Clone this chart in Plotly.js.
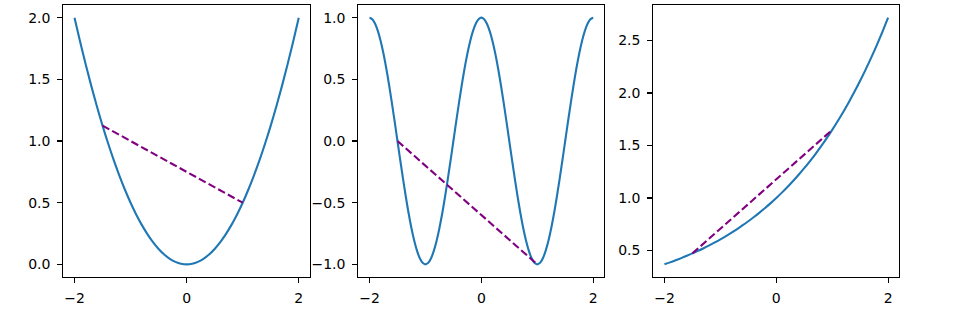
<!DOCTYPE html>
<html>
<head>
<meta charset="utf-8">
<script src="https://cdn.plot.ly/plotly-3.0.1.min.js"></script>
<style>html,body{margin:0;padding:0;background:#fff;}#chart{width:962px;height:320px;}</style>
</head>
<body>
<div id="chart"></div>
<script>
// Sample positions (x) for the smooth curves
const xCoarse = [-2.0,-1.9,-1.8,-1.7,-1.6,-1.5,-1.4,-1.3,-1.2,-1.1,-1.0,-0.9,-0.8,-0.7,-0.6,-0.5,-0.4,-0.3,-0.2,-0.1,0.0,
  0.1,0.2,0.3,0.4,0.5,0.6,0.7,0.8,0.9,1.0,1.1,1.2,1.3,1.4,1.5,1.6,1.7,1.8,1.9,2.0];
const xFine = [-2.0,-1.95,-1.9,-1.85,-1.8,-1.75,-1.7,-1.65,-1.6,-1.55,-1.5,-1.45,-1.4,-1.35,-1.3,-1.25,-1.2,-1.15,-1.1,-1.05,
  -1.0,-0.95,-0.9,-0.85,-0.8,-0.75,-0.7,-0.65,-0.6,-0.55,-0.5,-0.45,-0.4,-0.35,-0.3,-0.25,-0.2,-0.15,-0.1,-0.05,
  0.0,0.05,0.1,0.15,0.2,0.25,0.3,0.35,0.4,0.45,0.5,0.55,0.6,0.65,0.7,0.75,0.8,0.85,0.9,0.95,
  1.0,1.05,1.1,1.15,1.2,1.25,1.3,1.35,1.4,1.45,1.5,1.55,1.6,1.65,1.7,1.75,1.8,1.85,1.9,1.95,2.0];

// Panel 1: parabola
const yParabola = [2.0,1.805,1.62,1.445,1.28,1.125,0.98,0.845,0.72,0.605,0.5,0.405,0.32,0.245,0.18,0.125,0.08,0.045,0.02,0.005,0.0,
  0.005,0.02,0.045,0.08,0.125,0.18,0.245,0.32,0.405,0.5,0.605,0.72,0.845,0.98,1.125,1.28,1.445,1.62,1.805,2.0];
// Panel 2: oscillating curve
const yWave = [1.0,0.9877,0.9511,0.891,0.809,0.7071,0.5878,0.454,0.309,0.1564,0.0,-0.1564,-0.309,-0.454,-0.5878,-0.7071,-0.809,-0.891,-0.9511,-0.9877,
  -1.0,-0.9877,-0.9511,-0.891,-0.809,-0.7071,-0.5878,-0.454,-0.309,-0.1564,0.0,0.1564,0.309,0.454,0.5878,0.7071,0.809,0.891,0.9511,0.9877,
  1.0,0.9877,0.9511,0.891,0.809,0.7071,0.5878,0.454,0.309,0.1564,0.0,-0.1564,-0.309,-0.454,-0.5878,-0.7071,-0.809,-0.891,-0.9511,-0.9877,
  -1.0,-0.9877,-0.9511,-0.891,-0.809,-0.7071,-0.5878,-0.454,-0.309,-0.1564,0.0,0.1564,0.309,0.454,0.5878,0.7071,0.809,0.891,0.9511,0.9877,1.0];
// Panel 3: growth curve
const yGrowth = [0.3679,0.3867,0.4066,0.4274,0.4493,0.4724,0.4966,0.522,0.5488,0.5769,0.6065,0.6376,0.6703,0.7047,0.7408,0.7788,0.8187,0.8607,0.9048,0.9512,1.0,
  1.0513,1.1052,1.1618,1.2214,1.284,1.3499,1.4191,1.4918,1.5683,1.6487,1.7333,1.8221,1.9155,2.0138,2.117,2.2255,2.3396,2.4596,2.5857,2.7183];

// Dashed chords (secants)
const chordX = [-1.5, 1.0];
const chord1Y = [1.125, 0.5];
const chord2Y = [0.0, -1.0];
const chord3Y = [0.4724, 1.6487];

// Tick labels
const xTickVals = [-2, 0, 2];
const xTickText = ['\u22122', '0', '2'];
const y1TickVals = [0, 0.5, 1.0, 1.5, 2.0];
const y1TickText = ['0.0', '0.5', '1.0', '1.5', '2.0'];
const y2TickVals = [-1.0, -0.5, 0.0, 0.5, 1.0];
const y2TickText = ['\u22121.0', '\u22120.5', '0.0', '0.5', '1.0'];
const y3TickVals = [0.5, 1.0, 1.5, 2.0, 2.5];
const y3TickText = ['0.5', '1.0', '1.5', '2.0', '2.5'];

const blue = '#1f77b4';
const purple = '#800080';
const curveLine = {color: blue, width: 2.1, shape: 'spline', smoothing: 1};
const chordLine = {color: purple, width: 2.1, dash: '7.7px,3.3px'};

const traces = [
  {x: xCoarse, y: yParabola, xaxis: 'x', yaxis: 'y', mode: 'lines', line: curveLine, hoverinfo: 'skip'},
  {x: chordX, y: chord1Y, xaxis: 'x', yaxis: 'y', mode: 'lines', line: chordLine, hoverinfo: 'skip'},
  {x: xFine, y: yWave, xaxis: 'x2', yaxis: 'y2', mode: 'lines', line: curveLine, hoverinfo: 'skip'},
  {x: chordX, y: chord2Y, xaxis: 'x2', yaxis: 'y2', mode: 'lines', line: chordLine, hoverinfo: 'skip'},
  {x: xCoarse, y: yGrowth, xaxis: 'x3', yaxis: 'y3', mode: 'lines', line: curveLine, hoverinfo: 'skip'},
  {x: chordX, y: chord3Y, xaxis: 'x3', yaxis: 'y3', mode: 'lines', line: chordLine, hoverinfo: 'skip'}
];

const font = {family: 'DejaVu Sans', size: 14, color: '#000'};
function xAx(domain, anchor) {
  return {domain: domain, anchor: anchor, range: [-2.2, 2.2], tickvals: xTickVals, ticktext: xTickText,
    showline: true, mirror: true, linecolor: '#000', linewidth: 1.1, ticks: 'outside', ticklen: 5, tickwidth: 1.1,
    tickcolor: '#000', showgrid: false, zeroline: false, tickfont: font, ticklabelstandoff: 3, fixedrange: true};
}
function yAx(anchor, range, vals, text) {
  return {domain: [0.1353, 0.9834], anchor: anchor, range: range, tickvals: vals, ticktext: text,
    showline: true, mirror: true, linecolor: '#000', linewidth: 1.1, ticks: 'outside', ticklen: 5, tickwidth: 1.1,
    tickcolor: '#000', showgrid: false, zeroline: false, tickfont: font, ticklabelstandoff: 4, fixedrange: true};
}

const layout = {
  width: 962, height: 320,
  margin: {l: 0, r: 0, t: 0, b: 0},
  paper_bgcolor: '#fff', plot_bgcolor: '#fff',
  showlegend: false,
  font: font,
  xaxis: xAx([0.0658, 0.3222], 'y'),
  yaxis: yAx('x', [-0.1, 2.1], y1TickVals, y1TickText),
  xaxis2: xAx([0.3725, 0.6282], 'y2'),
  yaxis2: yAx('x2', [-1.1, 1.1], y2TickVals, y2TickText),
  xaxis3: xAx([0.6791, 0.9348], 'y3'),
  yaxis3: yAx('x3', [0.2503, 2.8358], y3TickVals, y3TickText)
};

Plotly.newPlot('chart', traces, layout, {displayModeBar: false, staticPlot: true});
</script>
</body>
</html>
